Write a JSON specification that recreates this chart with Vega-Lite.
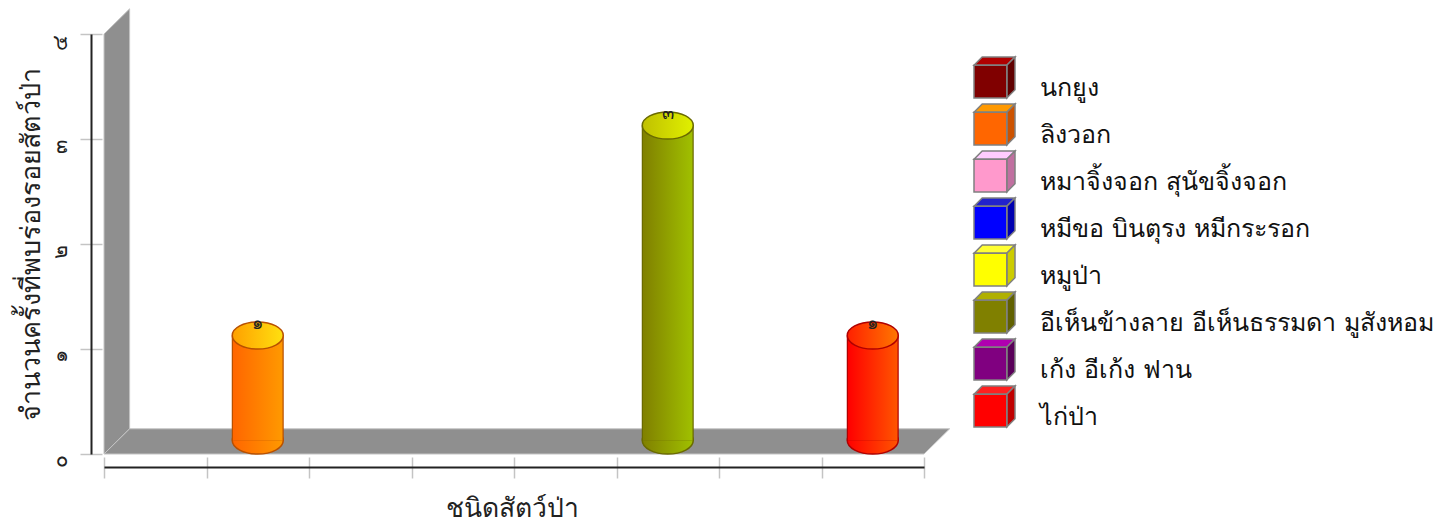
{
"$schema":"https://vega.github.io/schema/vega-lite/v6.json",
"width":820,"height":420,
"autosize":"none",
"padding":{"left":104,"top":34,"right":531,"bottom":69},
"background":"white",
"config":{"view":{"stroke":null},"axis":{"grid":false},"font":"DejaVu Sans"},
"datasets":{
"species":[
{"species":"นกยูง","count":0,"label":"๐"},
{"species":"ลิงวอก","count":1,"label":"๑"},
{"species":"หมาจิ้งจอก สุนัขจิ้งจอก","count":0,"label":"๐"},
{"species":"หมีขอ บินตุรง หมีกระรอก","count":0,"label":"๐"},
{"species":"หมูป่า","count":0,"label":"๐"},
{"species":"อีเห็นข้างลาย อีเห็นธรรมดา มูสังหอม","count":3,"label":"๓"},
{"species":"เก้ง อีเก้ง ฟาน","count":0,"label":"๐"},
{"species":"ไก่ป่า","count":1,"label":"๑"}],
"wall":[{"px":0,"lo":0,"hi":4},{"px":0.25,"lo":0.24,"hi":4.24}],
"floor":[{"py":0,"left":0,"right":8},{"py":0.24,"left":0.25,"right":8.25}]
},
"data":{"name":"species"},
"encoding":{
"x":{"field":"species","type":"nominal","axis":null,"sort":null,"scale":{"type":"band","paddingInner":0,"paddingOuter":0,"domain":["นกยูง","ลิงวอก","หมาจิ้งจอก สุนัขจิ้งจอก","หมีขอ บินตุรง หมีกระรอก","หมูป่า","อีเห็นข้างลาย อีเห็นธรรมดา มูสังหอม","เก้ง อีเก้ง ฟาน","ไก่ป่า"]}},
"y":{"field":"count","type":"quantitative","stack":null,"axis":null,"scale":{"domain":[0,4],"nice":false}}
},
"layer":[
{"data":{"name":"wall"},"mark":{"type":"area","color":"#8f8f8f","stroke":"#c4c4c4","strokeWidth":1},
 "encoding":{"x":{"field":"px","type":"quantitative","axis":null,"scale":{"domain":[0,8],"nice":false,"zero":false}},"y":{"field":"lo","type":"quantitative","stack":null,"axis":null},"y2":{"field":"hi"}}},
{"data":{"name":"floor"},"mark":{"type":"area","orient":"horizontal","color":"#8f8f8f","stroke":"#c4c4c4","strokeWidth":1},
 "encoding":{"y":{"field":"py","type":"quantitative","stack":null,"axis":null},"x":{"field":"left","type":"quantitative","axis":null,"scale":{"domain":[0,8],"nice":false,"zero":false}},"x2":{"field":"right"}}},

{"transform":[{"filter":"datum.count>0"}],
 "mark":{"type":"point","filled":true,"opacity":1,"strokeWidth":1.5,"yOffset":-13.5,"shape":"M-1,0A1,0.53,0,1,1,1,0A1,0.53,0,1,1,-1,0Z","size":2601},
 "encoding":{"y":{"datum":0,"type":"quantitative","axis":null},
  "color":{"condition":[
   {"test":"datum.count==3","value":{"gradient":"linear","stops":[{"offset":0,"color":"#808000"},{"offset":1,"color":"#a0c000"}]}},
   {"test":"datum.species=='ลิงวอก'","value":{"gradient":"linear","stops":[{"offset":0,"color":"#ff6600"},{"offset":1,"color":"#ff9900"}]}}],
   "value":{"gradient":"linear","stops":[{"offset":0,"color":"#ff0000"},{"offset":1,"color":"#ff5500"}]}},
  "stroke":{"condition":[{"test":"datum.count==3","value":"#6a6a00"},{"test":"datum.species=='ลิงวอก'","value":"#b85000"}],"value":"#b00000"}}},
{"transform":[{"filter":"datum.count>0"}],
 "mark":{"type":"bar","size":52,"yOffset":-13.5,"y2Offset":-13.5},
 "encoding":{"y2":{"datum":0},
  "color":{"condition":[{"test":"datum.count==3","value":"#6a6a00"},{"test":"datum.species=='ลิงวอก'","value":"#b85000"}],"value":"#b00000"}}},
{"transform":[{"filter":"datum.count>0"}],
 "mark":{"type":"bar","size":49.5,"yOffset":-13.5,"y2Offset":-13.5},
 "encoding":{"y2":{"datum":0},
  "x":{"field":"species","type":"nominal","sort":null,"title":"ชนิดสัตว์ป่า",
   "scale":{"type":"band","paddingInner":0,"paddingOuter":0,"domain":["นกยูง","ลิงวอก","หมาจิ้งจอก สุนัขจิ้งจอก","หมีขอ บินตุรง หมีกระรอก","หมูป่า","อีเห็นข้างลาย อีเห็นธรรมดา มูสังหอม","เก้ง อีเก้ง ฟาน","ไก่ป่า"]},
   "axis":{"orient":"bottom","offset":3,"tickBand":"extent","domain":false,"labels":false,"ticks":true,"tickSize":21,"tickColor":"#c4c4c4","tickWidth":1.5,"title":"ชนิดสัตว์ป่า","titleFontSize":26.5,"titleFontWeight":"normal","titleColor":"#222222","titlePadding":17,"titleX":408}},
  "y":{"field":"count","type":"quantitative","stack":null,"title":"จำนวนครั้งที่พบร่องรอยสัตว์ป่า",
   "axis":{"orient":"left","offset":2,"values":[0,1,2,3,4],"domain":false,"tickSize":22,"tickColor":"#c4c4c4","tickWidth":1.5,"labelExpr":"['๐','๑','๒','๓','๔'][datum.value]","labelAngle":-90,"labelAlign":"right","labelBaseline":"middle","labelFontSize":21,"labelColor":"#222222","labelPadding":20,"title":"จำนวนครั้งที่พบร่องรอยสัตว์ป่า","titleFontSize":27,"titleFontWeight":"normal","titleColor":"#222222","titlePadding":4}},
  "color":{"condition":[
   {"test":"datum.count==3","value":{"gradient":"linear","stops":[{"offset":0,"color":"#808000"},{"offset":1,"color":"#a0c000"}]}},
   {"test":"datum.species=='ลิงวอก'","value":{"gradient":"linear","stops":[{"offset":0,"color":"#ff6600"},{"offset":1,"color":"#ff9900"}]}}],
   "value":{"gradient":"linear","stops":[{"offset":0,"color":"#ff0000"},{"offset":1,"color":"#ff5500"}]}}}},
{"transform":[{"filter":"datum.count>0"}],
 "mark":{"type":"point","filled":true,"opacity":1,"strokeWidth":1.5,"yOffset":-13.5,"shape":"M-1,0A1,0.53,0,1,1,1,0A1,0.53,0,1,1,-1,0Z","size":2601},
 "encoding":{
  "color":{"condition":[
   {"test":"datum.count==3","value":{"gradient":"linear","stops":[{"offset":0,"color":"#c0c000"},{"offset":1,"color":"#e0f000"}]}},
   {"test":"datum.species=='ลิงวอก'","value":{"gradient":"linear","stops":[{"offset":0,"color":"#ffa000"},{"offset":1,"color":"#ffe010"}]}}],
   "value":{"gradient":"linear","stops":[{"offset":0,"color":"#ff2000"},{"offset":1,"color":"#ff7700"}]}},
  "stroke":{"condition":[{"test":"datum.count==3","value":"#6a6a00"},{"test":"datum.species=='ลิงวอก'","value":"#b85000"}],"value":"#b00000"}}},
{"transform":[{"filter":"datum.count>0"}],
 "mark":{"type":"text","fontSize":18,"yOffset":-25,"color":"#222222"},
 "encoding":{"text":{"field":"label"},
  "x":{"field":"species","type":"nominal","sort":null,
   "scale":{"type":"band","paddingInner":0,"paddingOuter":0,"domain":["นกยูง","ลิงวอก","หมาจิ้งจอก สุนัขจิ้งจอก","หมีขอ บินตุรง หมีกระรอก","หมูป่า","อีเห็นข้างลาย อีเห็นธรรมดา มูสังหอม","เก้ง อีเก้ง ฟาน","ไก่ป่า"]},
   "axis":{"orient":"bottom","offset":13,"domain":true,"domainColor":"#222222","domainWidth":2,"ticks":false,"labels":false,"title":null}},
  "y":{"field":"count","type":"quantitative","stack":null,
   "axis":{"orient":"left","offset":13,"domain":true,"domainColor":"#222222","domainWidth":2,"ticks":false,"labels":false,"title":null}}}},

{"mark":{"type":"point","filled":true,"opacity":0},
 "encoding":{"color":{"field":"species","type":"nominal","sort":null,"scale":{"domain":["นกยูง","ลิงวอก","หมาจิ้งจอก สุนัขจิ้งจอก","หมีขอ บินตุรง หมีกระรอก","หมูป่า","อีเห็นข้างลาย อีเห็นธรรมดา มูสังหอม","เก้ง อีเก้ง ฟาน","ไก่ป่า"],"range":["#b00000","#ff9900","#ffccff","#2222cc","#ffff33","#b0b000","#b000b0","#ff2020"]},
  "legend":{"orient":"none","legendX":869,"legendY":22,"title":null,"symbolType":"M-1,-1L-1,-1M1,1L1,1M-1,-0.6L-0.6,-1H1L0.6,-0.6Z","symbolSize":1681,"symbolOpacity":1,"symbolStrokeColor":"#808080","symbolStrokeWidth":1.5,"rowPadding":0,"labelExpr":"''"}}}},
{"mark":{"type":"point","filled":true,"opacity":0},
 "encoding":{"color":{"field":"species","type":"nominal","sort":null,"scale":{"domain":["นกยูง","ลิงวอก","หมาจิ้งจอก สุนัขจิ้งจอก","หมีขอ บินตุรง หมีกระรอก","หมูป่า","อีเห็นข้างลาย อีเห็นธรรมดา มูสังหอม","เก้ง อีเก้ง ฟาน","ไก่ป่า"],"range":["#600000","#cc5200","#c070a0","#0000b0","#cccc00","#606000","#5a005a","#c00000"]},
  "legend":{"orient":"none","legendX":869,"legendY":22,"title":null,"symbolType":"M-1,-1L-1,-1M1,1L1,1M0.6,-0.6L1,-1V0.6L0.6,1Z","symbolSize":1681,"symbolOpacity":1,"symbolStrokeColor":"#808080","symbolStrokeWidth":1.5,"rowPadding":0,"labelExpr":"''"}}}},
{"mark":{"type":"point","filled":true,"opacity":0},
 "encoding":{"color":{"field":"species","type":"nominal","sort":null,"scale":{"domain":["นกยูง","ลิงวอก","หมาจิ้งจอก สุนัขจิ้งจอก","หมีขอ บินตุรง หมีกระรอก","หมูป่า","อีเห็นข้างลาย อีเห็นธรรมดา มูสังหอม","เก้ง อีเก้ง ฟาน","ไก่ป่า"],"range":["#800000","#ff6600","#ff99cc","#0000ff","#ffff00","#808000","#800080","#ff0000"]},
  "legend":{"orient":"none","legendX":869,"legendY":22,"title":null,"symbolType":"M-1,-1L-1,-1M1,1L1,1M-1,-0.6H0.6V1H-1Z","symbolSize":1681,"symbolOpacity":1,"symbolStrokeColor":"#808080","symbolStrokeWidth":1.5,"rowPadding":0,"labelFontSize":25,"labelColor":"#111111","labelLimit":520,"labelOffset":24,"labelBaseline":"middle","encode":{"labels":{"update":{"dy":{"value":10}}}}}}}}
],
"resolve":{"scale":{"x":"independent","color":"independent"},"axis":{"x":"independent","y":"independent"}}
}
